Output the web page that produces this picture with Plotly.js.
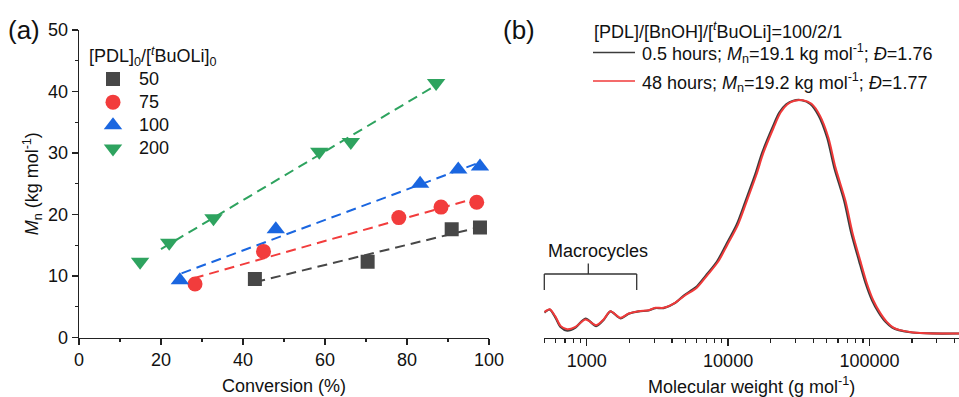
<!DOCTYPE html>
<html>
<head>
<meta charset="utf-8">
<script src="https://cdn.plot.ly/plotly-3.0.1.min.js"></script>
<style>html,body{margin:0;padding:0;background:#fff;overflow:hidden}#chart{width:959px;height:397px}</style>
</head>
<body>
<div id="chart"></div>
<script>
// ---- Panel (a) data ----
const ratioNames = ['50', '75', '100', '200'];
const conv50 = [42.9, 70.4, 90.9, 97.8];
const mn50   = [9.5, 12.3, 17.6, 17.9];
const conv75 = [28.3, 45.0, 78.0, 88.3, 97.0];
const mn75   = [8.7, 14.0, 19.5, 21.2, 22.0];
const conv100 = [24.6, 48.0, 83.2, 92.5, 97.8];
const mn100   = [9.3, 17.6, 25.0, 27.3, 27.8];
const conv200 = [14.9, 22.0, 32.8, 58.6, 66.3, 87.1];
const mn200   = [12.3, 15.4, 19.4, 30.2, 31.8, 41.4];
const fitStart = [43, 28, 25, 20];

// ---- Panel (b) data (GPC traces, normalised) ----
const mwRed = [500, 512, 546, 601, 652, 726, 832, 979, 1164, 1318, 1469, 1730, 1977, 2328, 2742, 3055, 3491, 4227, 4977, 6026, 7112, 8511, 9840, 11749, 13614, 15849, 17783, 20989, 23442, 26303, 29512, 33884, 38905, 44668, 51286, 57544, 67608, 75858, 86099, 95499, 106660, 118850, 132740, 147910, 164820, 204170, 281840, 436520];
const sigRed = [0.107, 0.111, 0.119, 0.087, 0.049, 0.035, 0.045, 0.076, 0.052, 0.077, 0.111, 0.083, 0.101, 0.111, 0.115, 0.125, 0.125, 0.147, 0.178, 0.211, 0.262, 0.320, 0.389, 0.476, 0.578, 0.686, 0.779, 0.884, 0.947, 0.983, 0.998, 1.000, 0.985, 0.935, 0.842, 0.716, 0.577, 0.442, 0.324, 0.232, 0.156, 0.105, 0.066, 0.042, 0.031, 0.021, 0.017, 0.017];
const mwGray = [500, 512, 546, 601, 652, 726, 832, 979, 1164, 1318, 1469, 1730, 1977, 2328, 2742, 3055, 3491, 4227, 4880, 5900, 6970, 8340, 9640, 11510, 13340, 15530, 17430, 20570, 22970, 25780, 28920, 33210, 38130, 43770, 50260, 56390, 66260, 74340, 84380, 93590, 104530, 116470, 130090, 144950, 161520, 200090, 276200, 436520];
const sigGray = [0.105, 0.110, 0.118, 0.083, 0.044, 0.029, 0.042, 0.080, 0.048, 0.075, 0.110, 0.081, 0.100, 0.110, 0.114, 0.124, 0.124, 0.146, 0.178, 0.211, 0.262, 0.320, 0.389, 0.476, 0.578, 0.686, 0.779, 0.884, 0.947, 0.983, 0.998, 1.000, 0.985, 0.935, 0.842, 0.716, 0.577, 0.442, 0.324, 0.232, 0.156, 0.105, 0.066, 0.042, 0.031, 0.021, 0.017, 0.017];

const xTicksA = [0, 20, 40, 60, 80, 100];
const yTicksA = [0, 10, 20, 30, 40, 50];
const xTicksB = [1000, 10000, 100000];
const xTickTextB = ['1000', '10000', '100000'];
const xMinorB = [500, 600, 700, 800, 900, 2000, 3000, 4000, 5000, 6000, 7000, 8000, 9000, 20000, 30000, 40000, 50000, 60000, 70000, 80000, 90000, 200000, 300000, 400000];

const FONT = 'Liberation Sans, Arial, sans-serif';
const FS = 18;
const colors = ['#474747', '#f23c3c', '#1a66e0', '#2ea35f'];
const symbols = ['square', 'circle', 'triangle-up', 'triangle-down'];
const sizes = [14, 15, 16, 16];

const convs = [conv50, conv75, conv100, conv200];
const mns = [mn50, mn75, mn100, mn200];

function linfit(x, y) {
  const n = x.length;
  const mx = x.reduce((a, b) => a + b, 0) / n;
  const my = y.reduce((a, b) => a + b, 0) / n;
  let sxy = 0, sxx = 0;
  for (let i = 0; i < n; i++) { sxy += (x[i] - mx) * (y[i] - my); sxx += (x[i] - mx) ** 2; }
  const b = sxy / sxx;
  return [b, my - b * mx];
}

const traces = [];
for (let i = 0; i < 4; i++) {
  const [b, a] = linfit(convs[i], mns[i]);
  const x0 = fitStart[i], x1 = Math.max(...convs[i]);
  traces.push({
    x: [x0, x1], y: [a + b * x0, a + b * x1], mode: 'lines', xaxis: 'x', yaxis: 'y',
    line: {color: colors[i], width: 2, dash: '10px,6px'}, showlegend: false, hoverinfo: 'skip'
  });
}
for (let i = 0; i < 4; i++) {
  traces.push({
    x: convs[i], y: mns[i], mode: 'markers',
    name: '<span style="font-size:' + FS + 'px">' + ratioNames[i] + '</span>',
    xaxis: 'x', yaxis: 'y',
    marker: {symbol: symbols[i], size: sizes[i], color: colors[i], line: {width: 0}},
    legend: 'legend'
  });
}
traces.push({x: mwGray, y: sigGray, mode: 'lines', xaxis: 'x2', yaxis: 'y2', line: {color: '#3c3c3c', width: 2.2, shape: 'spline', smoothing: 0.8}, showlegend: false});
traces.push({x: mwRed, y: sigRed, mode: 'lines', xaxis: 'x2', yaxis: 'y2', line: {color: '#f03a3a', width: 2, shape: 'spline', smoothing: 0.8}, showlegend: false});

const W = 959, H = 397;
const px = v => v / W, py = v => 1 - v / H;
const yDom = [py(337.5), py(30)];
const tfont = {family: FONT, size: FS, color: '#111'};

const axCommon = {
  showline: true, linecolor: '#222', linewidth: 1.3, ticks: 'outside', ticklen: 6, tickwidth: 1.3, tickcolor: '#222',
  showgrid: false, zeroline: false, tickfont: tfont, automargin: false, fixedrange: true
};

const layout = {
  width: W, height: H, margin: {l: 0, r: 0, t: 0, b: 0}, paper_bgcolor: '#fff', plot_bgcolor: 'rgba(0,0,0,0)',
  font: {family: FONT, color: '#111'},
  xaxis: Object.assign({}, axCommon, {
    domain: [px(79), px(489)], range: [0, 100], anchor: 'y', tickvals: xTicksA,
    minor: {ticks: 'outside', ticklen: 3, tickwidth: 1.2, tickcolor: '#222', dtick: 10},
    title: {text: 'Conversion (%)', font: tfont, standoff: 10}
  }),
  yaxis: Object.assign({}, axCommon, {
    domain: yDom, range: [0, 50], anchor: 'x', tickvals: yTicksA,
    minor: {ticks: 'outside', ticklen: 3, tickwidth: 1.2, tickcolor: '#222', dtick: 5},
    title: {text: '<i>M</i><sub>n</sub> (kg mol<sup>-1</sup>)', font: tfont, standoff: 4}
  }),
  xaxis2: Object.assign({}, axCommon, {
    domain: [px(544.3), 1], type: 'log', range: [Math.log10(500), 5.634], anchor: 'y2',
    tickvals: xTicksB, ticktext: xTickTextB, ticklen: 7,
    minor: {ticks: 'outside', ticklen: 4, tickwidth: 1.2, tickcolor: '#222', tickvals: xMinorB},
    title: {text: 'Molecular weight (g mol<sup>-1</sup>)', font: tfont, standoff: 10}
  }),
  yaxis2: {domain: yDom, range: [0, 1.296], anchor: 'x2', visible: false, fixedrange: true},
  legend: {
    x: px(87), y: py(39), xanchor: 'left', yanchor: 'top', bgcolor: 'rgba(0,0,0,0)',
    font: {family: FONT, size: 15.5, color: '#111'}, tracegroupgap: 0, itemsizing: 'trace', itemwidth: 42,
    title: {text: '[PDL]<sub>0</sub>/[<sup><i>t</i></sup>BuOLi]<sub>0</sub>', font: tfont}
  },
  showlegend: true,
  shapes: [
    {type: 'line', xref: 'paper', yref: 'paper', x0: px(544.3), x1: px(636.7), y0: py(274), y1: py(274), line: {color: '#333', width: 1.3}},
    {type: 'line', xref: 'paper', yref: 'paper', x0: px(544.3), x1: px(544.3), y0: py(274), y1: py(290), line: {color: '#333', width: 1.3}},
    {type: 'line', xref: 'paper', yref: 'paper', x0: px(636.7), x1: px(636.7), y0: py(274), y1: py(290), line: {color: '#333', width: 1.3}},
    {type: 'line', xref: 'paper', yref: 'paper', x0: px(588.3), x1: px(588.3), y0: py(274), y1: py(263.5), line: {color: '#333', width: 1.3}},
    {type: 'line', xref: 'paper', yref: 'paper', x0: px(593), x1: px(635), y0: py(52.5), y1: py(52.5), line: {color: '#3c3c3c', width: 1.6}},
    {type: 'line', xref: 'paper', yref: 'paper', x0: px(593), x1: px(635), y0: py(81), y1: py(81), line: {color: '#f03a3a', width: 1.6}}
  ],
  annotations: [
    {text: '(a)', xref: 'paper', yref: 'paper', x: px(6), y: py(30), xanchor: 'left', yanchor: 'middle', showarrow: false, font: {family: FONT, size: 26, color: '#111'}},
    {text: '(b)', xref: 'paper', yref: 'paper', x: px(501), y: py(30), xanchor: 'left', yanchor: 'middle', showarrow: false, font: {family: FONT, size: 26, color: '#111'}},
    {text: 'Macrocycles', xref: 'paper', yref: 'paper', x: px(598), y: py(251), xanchor: 'center', yanchor: 'middle', showarrow: false, font: tfont},
    {text: '[PDL]/[BnOH]/[<sup><i>t</i></sup>BuOLi]=100/2/1', xref: 'paper', yref: 'paper', x: px(592), y: py(30), xanchor: 'left', yanchor: 'middle', showarrow: false, font: tfont},
    {text: '0.5 hours; <i>M</i><sub>n</sub>=19.1 kg mol<sup>-1</sup>; <i>Đ</i>=1.76', xref: 'paper', yref: 'paper', x: px(640), y: py(53.5), xanchor: 'left', yanchor: 'middle', showarrow: false, font: tfont},
    {text: '48 hours; <i>M</i><sub>n</sub>=19.2 kg mol<sup>-1</sup>; <i>Đ</i>=1.77', xref: 'paper', yref: 'paper', x: px(640), y: py(82), xanchor: 'left', yanchor: 'middle', showarrow: false, font: tfont}
  ]
};

Plotly.newPlot('chart', traces, layout, {displayModeBar: false, staticPlot: true});
</script>
</body>
</html>
